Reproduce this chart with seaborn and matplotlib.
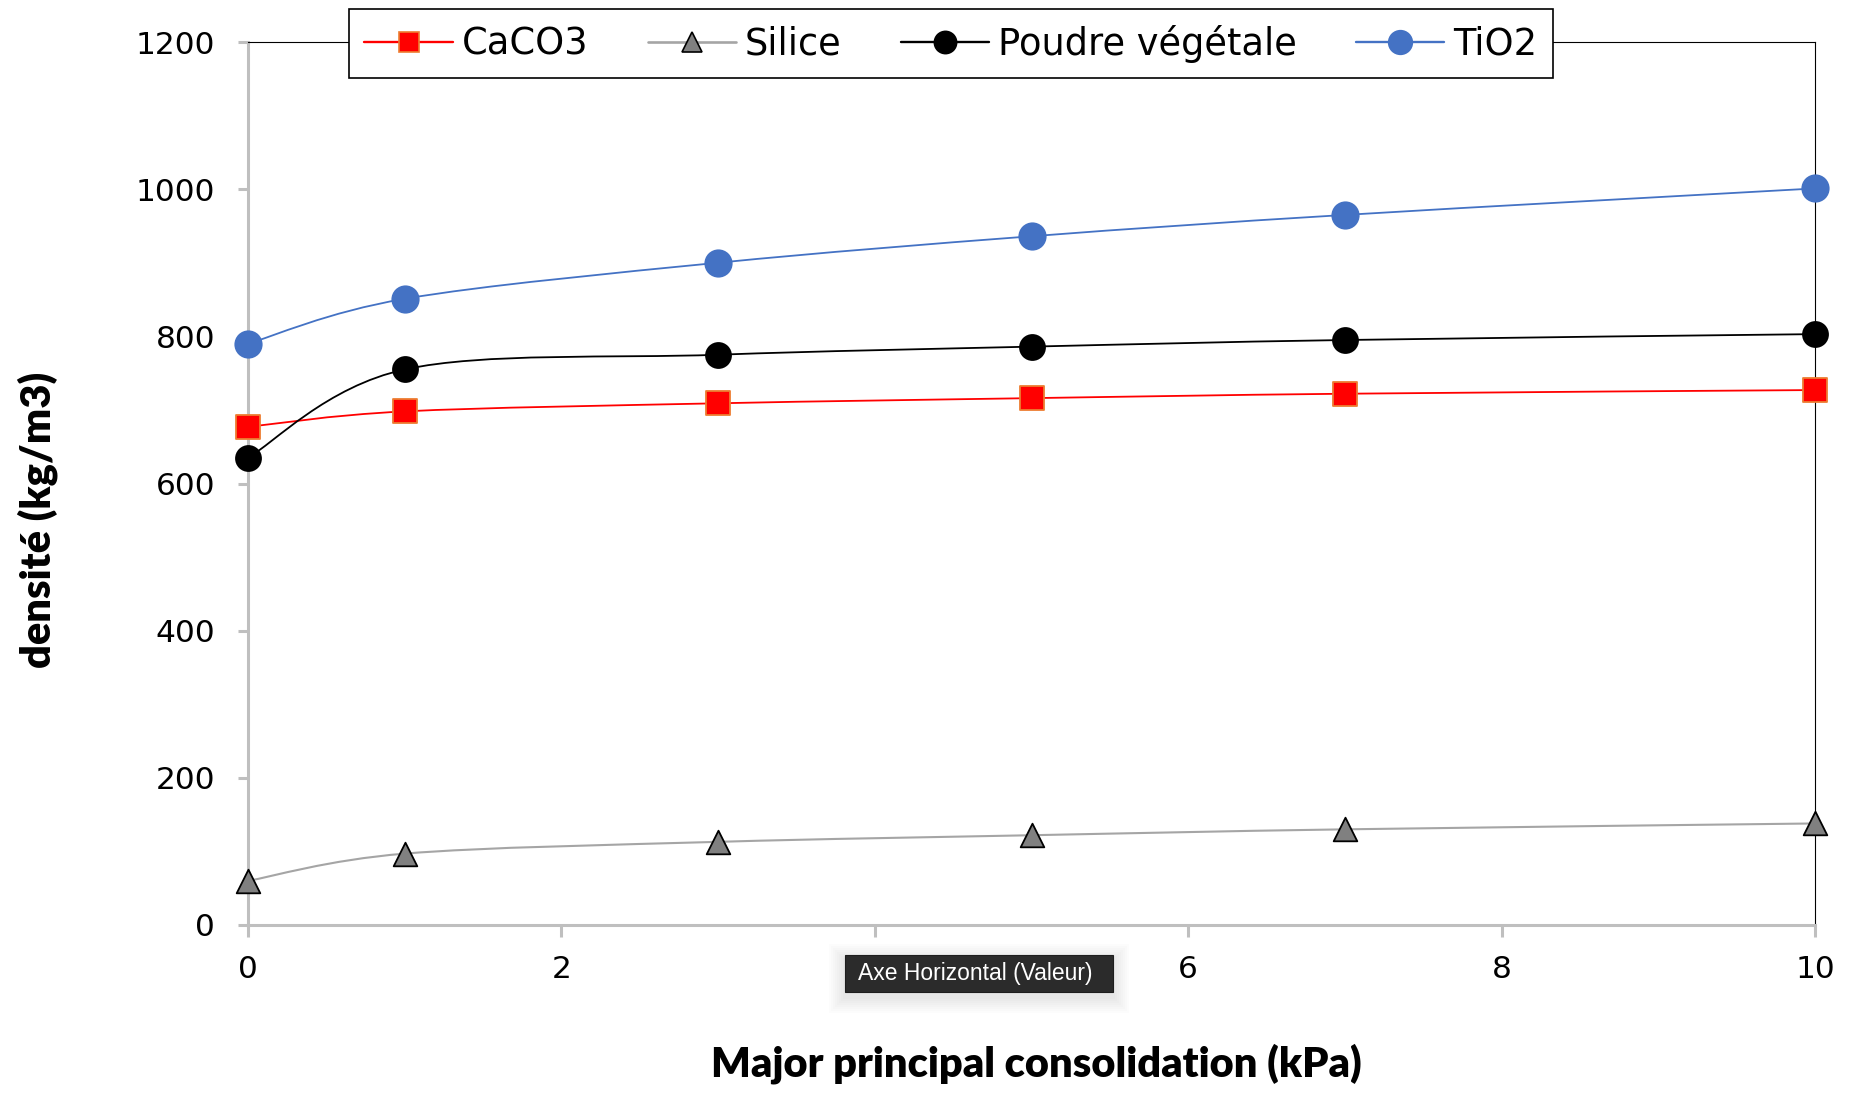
import matplotlib.pyplot as plt
import numpy as np
import seaborn as sns
from matplotlib.lines import Line2D
from matplotlib.patches import PathPatch, Rectangle
from matplotlib.path import Path

# data
pressure = [0, 1, 3, 5, 7, 10]
caco3 = [677, 698, 709, 716, 722, 727]
silice = [60, 97, 113, 122, 130, 138]
poudre = [635, 755, 775, 786, 795, 803]
tio2 = [790, 851, 900, 936, 965, 1001]

names = ["CaCO3", "Silice", "Poudre végétale", "TiO2"]
values = [caco3, silice, poudre, tio2]

# line colour, marker, face, edge, marker size, line width
styles = {
    "CaCO3": ("#FF0000", "s", "#FF0000", "#ED7D31", 17, 1.3),
    "Silice": ("#A5A5A5", "^", "#808080", "#000000", 17, 1.5),
    "Poudre végétale": ("#000000", "o", "#000000", "#000000", 18, 1.3),
    "TiO2": ("#4472C4", "o", "#4472C4", "#4472C4", 19, 1.3),
}


def smooth_path(xs, ys):
    # excel style smoothed line, bezier segments through the points
    pts = np.column_stack([xs, ys]).astype(float)
    n = len(pts)
    verts = [pts[0]]
    codes = [Path.MOVETO]
    for i in range(n - 1):
        p0 = pts[max(i - 1, 0)]
        p1 = pts[i]
        p2 = pts[i + 1]
        p3 = pts[min(i + 2, n - 1)]
        verts += [p1 + (p2 - p0) / 6, p2 - (p3 - p1) / 6, p2]
        codes += [Path.CURVE4] * 3
    return Path(verts, codes)


sns.set_style("white")
plt.rcParams["font.family"] = ["DejaVu Sans"]
plt.rcParams["text.color"] = "black"
plt.rcParams["axes.labelcolor"] = "black"
plt.rcParams["xtick.labelcolor"] = "black"
plt.rcParams["ytick.labelcolor"] = "black"

fig = plt.figure(figsize=(18.52, 10.96), dpi=100)
ax = fig.add_axes([248 / 1852, 1 - 925 / 1096, 1567 / 1852, 883 / 1096])

handles = []
for k, (name, vals) in enumerate(zip(names, values)):
    lc, mk, fc, ec, ms, lw = styles[name]
    ax.add_patch(PathPatch(smooth_path(pressure, vals), fill=False, edgecolor=lc,
                           linewidth=lw, zorder=3 + 2 * k, clip_on=False))
    sns.scatterplot(x=pressure, y=vals, marker=mk, s=ms ** 2, color=fc,
                    edgecolor=ec, linewidth=1.3, ax=ax, zorder=4 + 2 * k,
                    clip_on=False, legend=False)
    handles.append(Line2D([], [], color=lc, lw=lw + 0.4, marker=mk, markersize=ms - 2,
                          markerfacecolor=fc, markeredgecolor=ec, markeredgewidth=1.2))

ax.set_xlim(0, 10)
ax.set_ylim(0, 1200)
ax.set_xticks(range(0, 11, 2))
ax.set_yticks(range(0, 1201, 200))

for side in ["top", "right"]:
    ax.spines[side].set_color("black")
    ax.spines[side].set_linewidth(0.8)
for side in ["left", "bottom"]:
    ax.spines[side].set_color("#BFBFBF")
    ax.spines[side].set_linewidth(2.2)
ax.spines["left"].set_zorder(2)

ax.tick_params(axis="y", direction="out", length=7.5, width=2.2, color="#BFBFBF",
               labelsize=22.5, pad=16, left=True)
ax.tick_params(axis="x", direction="out", length=8.5, width=2.2, color="#BFBFBF",
               labelsize=22.5, pad=13, bottom=True)

ax.set_xlabel("Major principal consolidation (kPa)", fontsize=30,
              fontweight="heavy", family="Lato", va="top")
ax.xaxis.set_label_coords(0.503, -0.134)
ax.set_ylabel("densité (kg/m3)", fontsize=30, fontweight="heavy", family="Lato")
ax.yaxis.set_label_coords(-0.121, 0.459)

leg = fig.legend(handles, names, loc="center", bbox_to_anchor=(0.5135, 0.9603),
                 ncol=4, frameon=True, fancybox=False, edgecolor="black",
                 framealpha=1, prop={"family": "DejaVu Sans", "size": 26.5},
                 handlelength=2.4, handletextpad=0.25, columnspacing=1.6,
                 borderpad=0.42)
leg.get_frame().set_linewidth(1.2)

# tooltip left over from the screenshot
x0, y0, w, h = 845 / 1852, 1 - 992 / 1096, 268 / 1852, 37 / 1096
for i in range(8):
    d = 16 - 2 * i
    fig.add_artist(Rectangle((x0 - d / 1852, y0 - (d + 5) / 1096), w + 2 * d / 1852,
                             h + 2 * d / 1096, transform=fig.transFigure,
                             facecolor="black", edgecolor="none", alpha=0.012))
fig.add_artist(Rectangle((x0, y0), w, h, transform=fig.transFigure,
                         facecolor="#2B2B2B", edgecolor="#1E1E1E", lw=0.8))
fig.text(x0 + w / 2 - 4 / 1852, y0 + h / 2, "Axe Horizontal (Valeur)", ha="center",
         va="center", color="white", fontsize=16.5, family="Liberation Sans")

fig.savefig("out.png", dpi=100)
